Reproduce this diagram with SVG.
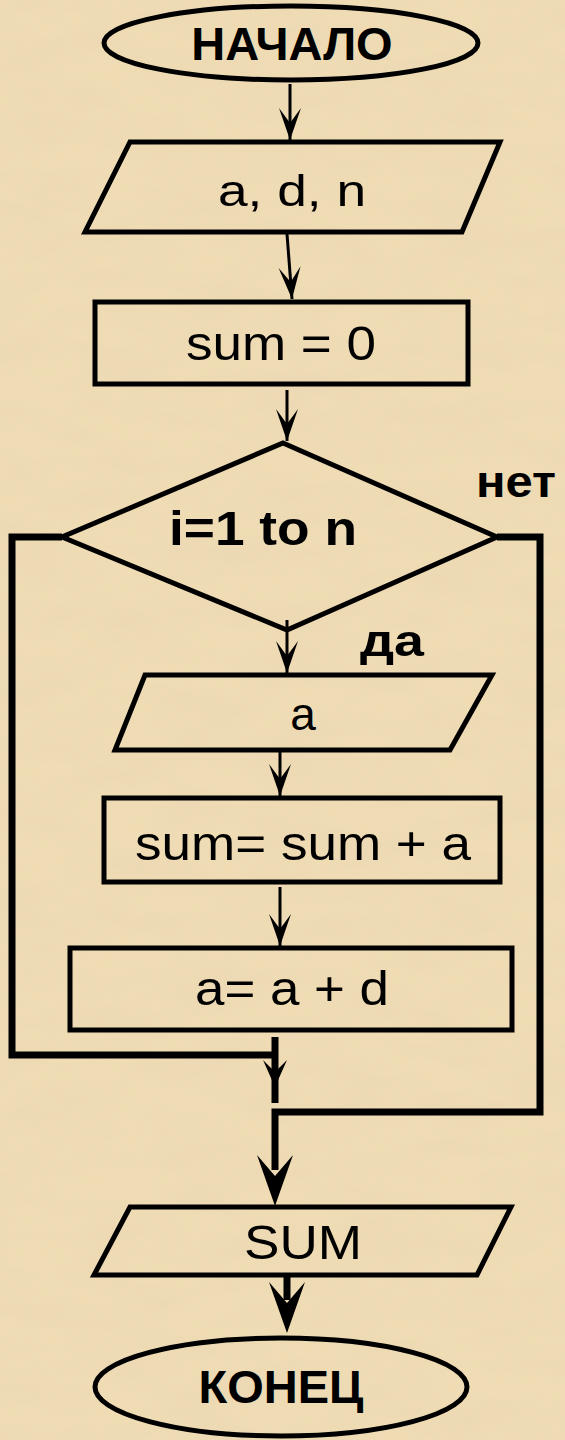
<svg xmlns="http://www.w3.org/2000/svg" width="565" height="1440" viewBox="0 0 565 1440">
<defs>
<filter id="paper" x="0" y="0" width="100%" height="100%">
<feTurbulence type="fractalNoise" baseFrequency="0.012 0.035" numOctaves="4" seed="7"/>
<feColorMatrix type="matrix" values="0 0 0 0 0.80  0 0 0 0 0.66  0 0 0 0 0.46  1.1 0 0 0 -0.35"/>
</filter>
<marker id="ah" markerUnits="userSpaceOnUse" viewBox="-34 -14 36 28" markerWidth="36" markerHeight="28" refX="0" refY="0" orient="auto">
<path d="M0,0 L-32,-11 L-17,0 L-32,11 Z" fill="#000"/>
</marker>
</defs>
<style>
.shape{fill:none;stroke:#000;stroke-width:5;stroke-linejoin:miter}
.t{font-family:"Liberation Sans",Arial,sans-serif;fill:#000;text-anchor:middle}
.b{font-weight:bold}
.c{fill:none;stroke:#000;stroke-width:3}
.ct{fill:none;stroke:#000;stroke-width:7;stroke-linejoin:miter}
.ah{fill:#000}
</style>
<rect width="565" height="1440" fill="#efdcb4"/>
<rect width="565" height="1440" filter="url(#paper)" opacity="0.6"/>

<g id="connectors">
<line class="c" x1="290" y1="84" x2="290" y2="140" marker-end="url(#ah)"/>
<line class="c" x1="287" y1="234" x2="292" y2="299" marker-end="url(#ah)"/>
<line class="c" x1="287" y1="390" x2="287" y2="441" marker-end="url(#ah)"/>
<line class="c" x1="287" y1="620" x2="287" y2="673" marker-end="url(#ah)"/>
<line class="c" x1="280" y1="752" x2="280" y2="796" marker-end="url(#ah)"/>
<line class="c" x1="280" y1="887" x2="280" y2="946" marker-end="url(#ah)"/>
<path class="ct" d="M62,537 H12 V1055 H275"/>
<line class="ct" x1="275" y1="1037" x2="275" y2="1103"/>
<path class="ah" d="M275,1087 L263,1060 L275,1072 L287,1060 Z"/>
<path class="ct" d="M497,537 H540 V1112 H275 V1170"/>
<path class="ah" d="M275,1206 L257,1155 L275,1176 L293,1155 Z"/>
<line class="ct" x1="287" y1="1277" x2="287" y2="1300"/>
<path class="ah" d="M287,1333 L269,1282 L287,1303 L305,1282 Z"/>
</g>

<g id="start">
<ellipse class="shape" cx="291" cy="43" rx="187" ry="37"/>
<text class="t b" x="292" y="60" font-size="47">НАЧАЛО</text>
</g>
<g id="input1">
<polygon class="shape" points="130,142 500,142 462,232 85,232"/>
<text class="t" x="292" y="206" font-size="45" textLength="148" lengthAdjust="spacingAndGlyphs">a, d, n</text>
</g>
<g id="init">
<rect class="shape" x="95" y="302" width="373" height="82"/>
<text class="t" x="281" y="360" font-size="49" textLength="190" lengthAdjust="spacingAndGlyphs">sum = 0</text>
</g>
<g id="loop">
<polygon class="shape" points="283,443 497,537 287,630 62,537"/>
<text class="t b" x="263" y="545" font-size="49" textLength="188" lengthAdjust="spacingAndGlyphs">i=1 to n</text>
<text class="t b" x="516" y="497" font-size="44" textLength="80" lengthAdjust="spacingAndGlyphs">нет</text>
<text class="t b" x="392" y="656" font-size="44" textLength="64" lengthAdjust="spacingAndGlyphs">да</text>
</g>
<g id="input2">
<polygon class="shape" points="145,675 492,675 450,750 115,750"/>
<text class="t" x="303" y="730" font-size="46">a</text>
</g>
<g id="accum">
<rect class="shape" x="104" y="798" width="396" height="84"/>
<text class="t" x="303" y="860" font-size="49" textLength="336" lengthAdjust="spacingAndGlyphs">sum= sum + a</text>
</g>
<g id="step">
<rect class="shape" x="70" y="948" width="442" height="82"/>
<text class="t" x="292" y="1005" font-size="49" textLength="194" lengthAdjust="spacingAndGlyphs">a= a + d</text>
</g>
<g id="output">
<polygon class="shape" points="130,1207 511,1207 477,1275 94,1275"/>
<text class="t" x="303" y="1259" font-size="49" textLength="118" lengthAdjust="spacingAndGlyphs">SUM</text>
</g>
<g id="end">
<ellipse class="shape" cx="281" cy="1387" rx="186" ry="49"/>
<text class="t b" x="281" y="1403" font-size="47">КОНЕЦ</text>
</g>
</svg>
